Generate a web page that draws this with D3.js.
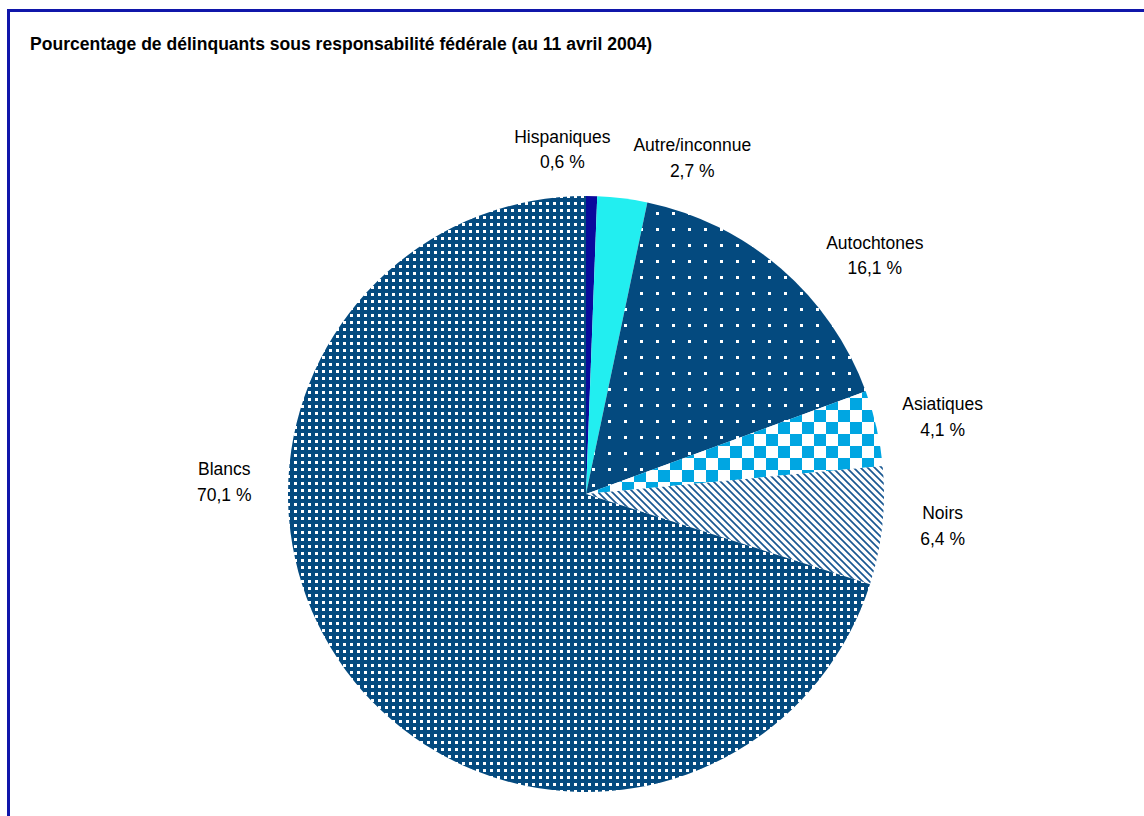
<!DOCTYPE html>
<html>
<head>
<meta charset="utf-8">
<script src="https://cdnjs.cloudflare.com/ajax/libs/d3/7.8.5/d3.min.js"></script>
<style>
  html, body { margin: 0; padding: 0; background: #ffffff; }
  svg { display: block; }
  text { font-family: "Liberation Sans", Arial, sans-serif; fill: #000; }
</style>
</head>
<body>
<svg id="chart" width="1144" height="816"></svg>
<script>
// Offender population by group, percent
const categories = ["Hispaniques", "Autre/inconnue", "Autochtones", "Asiatiques", "Noirs", "Blancs"];
const values = [0.6, 2.7, 16.1, 4.1, 6.4, 70.1];
const valueLabels = ["0,6 %", "2,7 %", "16,1 %", "4,1 %", "6,4 %", "70,1 %"];

const titleText = "Pourcentage de délinquants sous responsabilité fédérale (au 11 avril 2004)";

const width = 1144, height = 816;
const cx = 586, cy = 494, radius = 298;

const svg = d3.select("#chart");
const defs = svg.append("defs");

const navy = "#044a7f";

// Fine white dot grid on navy
const pBlancs = defs.append("pattern").attr("id", "p-blancs")
  .attr("patternUnits", "userSpaceOnUse").attr("width", 7).attr("height", 7);
pBlancs.append("rect").attr("width", 7).attr("height", 7).attr("fill", navy);
pBlancs.append("rect").attr("x", 2).attr("y", 2).attr("width", 3).attr("height", 3).attr("fill", "#fff");

// Sparse white dots on navy
const pAuto = defs.append("pattern").attr("id", "p-auto")
  .attr("patternUnits", "userSpaceOnUse").attr("width", 16).attr("height", 16);
pAuto.append("rect").attr("width", 16).attr("height", 16).attr("fill", navy);
pAuto.append("rect").attr("x", 6).attr("y", 6).attr("width", 3).attr("height", 3).attr("fill", "#fff");

// Checkerboard
const pAsia = defs.append("pattern").attr("id", "p-asia")
  .attr("patternUnits", "userSpaceOnUse").attr("width", 24).attr("height", 24);
pAsia.append("rect").attr("width", 24).attr("height", 24).attr("fill", "#fff");
pAsia.append("rect").attr("x", 0).attr("y", 0).attr("width", 12).attr("height", 12).attr("fill", "#00a6e2");
pAsia.append("rect").attr("x", 12).attr("y", 12).attr("width", 12).attr("height", 12).attr("fill", "#00a6e2");

// Diagonal hatch
const pNoirs = defs.append("pattern").attr("id", "p-noirs")
  .attr("patternUnits", "userSpaceOnUse").attr("width", 7).attr("height", 7);
pNoirs.append("rect").attr("width", 7).attr("height", 7).attr("fill", "#fff");
pNoirs.append("path").attr("d", "M-1,-1 L8,8 M-2,5 L2,9 M5,-2 L9,2")
  .attr("stroke", "#1a5892").attr("stroke-width", 1.7).attr("fill", "none");

const fills = ["#0a0a9c", "#22eef0", "url(#p-auto)", "url(#p-asia)", "url(#p-noirs)", "url(#p-blancs)"];

// Frame
svg.append("rect")
  .attr("x", 8.5).attr("y", 10.5)
  .attr("width", width + 20).attr("height", height + 20)
  .attr("fill", "none").attr("stroke", "#1016aa").attr("stroke-width", 3);

// Title
svg.append("text")
  .attr("x", 30).attr("y", 50)
  .attr("font-size", 17.5).attr("font-weight", "bold")
  .attr("textLength", 622).attr("lengthAdjust", "spacingAndGlyphs")
  .text(titleText);

const data = categories.map((c, i) => ({ name: c, value: values[i], label: valueLabels[i] }));

const pie = d3.pie().sort(null).value(d => d.value).startAngle(0).endAngle(2 * Math.PI);
const arc = d3.arc().innerRadius(0).outerRadius(radius);
const arcs = pie(data);

const g = svg.append("g").attr("transform", `translate(${cx},${cy})`);

g.selectAll("path.slice")
  .data(arcs)
  .join("path")
  .attr("class", "slice")
  .attr("d", arc)
  .attr("fill", (d, i) => fills[i]);

// Label placement: polar position around the pie, nudged per label
const labelRadius = [346, 353, 375, 365, 358, 362];
const labelAngleShift = [-5.0, 10.5, 9.5, 0.5, -1.1, 38.2]; // degrees
const lineGap = 25.5;

const lg = g.selectAll("g.label")
  .data(arcs)
  .join("g")
  .attr("class", "label")
  .attr("transform", (d, i) => {
    const mid = (d.startAngle + d.endAngle) / 2 + labelAngleShift[i] * Math.PI / 180;
    const r = labelRadius[i];
    return `translate(${r * Math.sin(mid)},${-r * Math.cos(mid)})`;
  });

lg.append("text")
  .attr("text-anchor", "middle")
  .attr("font-size", 17.5)
  .attr("y", -6)
  .text(d => d.data.name);

lg.append("text")
  .attr("text-anchor", "middle")
  .attr("font-size", 17.5)
  .attr("y", -6 + lineGap)
  .text(d => d.data.label);
</script>
</body>
</html>
